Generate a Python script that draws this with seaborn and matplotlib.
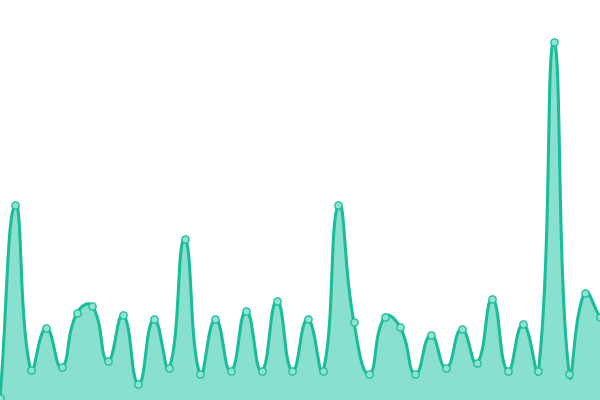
import numpy as np
import pandas as pd
import matplotlib
matplotlib.use("Agg")
import matplotlib.pyplot as plt
import seaborn as sns

# values (one point every 600/39 px)
values = [2, 195, 30, 72, 33, 87, 94, 39, 85, 16,
          81, 32, 161, 26, 81, 29, 89, 29, 99, 29,
          81, 29, 195, 78, 26, 83, 73, 26, 65, 32,
          71, 37, 101, 29, 76, 29, 358, 26, 107, 83]
idx = list(range(len(values)))

line_color = "#1bbc9b"
fill_color = "#8ae0cf"
marker_fill = "#8fe3d2"

step = 600 / (len(values) - 1)
x = np.array(idx) * step
y = np.array(values, dtype=float)


def smooth_curve(x, y, smooth=0.5, n=30):
    # bezier smoothing similar to echarts 'smooth: true'
    pts = np.column_stack([x, y])
    cp_prev = pts.copy()
    cp_next = pts.copy()
    for i in range(len(pts)):
        p = pts[i]
        prev = pts[i - 1] if i > 0 else p
        nxt = pts[i + 1] if i < len(pts) - 1 else p
        v = nxt - prev
        l0 = np.hypot(*(p - prev))
        l1 = np.hypot(*(nxt - p))
        if l0 + l1 == 0:
            continue
        r1 = l1 / (l0 + l1)
        r0 = l0 / (l0 + l1)
        cp_prev[i] = p - v * smooth * r0
        cp_next[i] = p + v * smooth * r1
    t = np.linspace(0, 1, n)[:, None]
    out = []
    for i in range(len(pts) - 1):
        a, b, c, d = pts[i], cp_next[i], cp_prev[i + 1], pts[i + 1]
        seg = ((1 - t) ** 3) * a + 3 * ((1 - t) ** 2) * t * b + 3 * (1 - t) * t ** 2 * c + t ** 3 * d
        out.append(seg if i == 0 else seg[1:])
    out = np.vstack(out)
    return out[:, 0], out[:, 1]


cx, cy = smooth_curve(x, y)
curve = pd.DataFrame({"x": cx, "y": cy})
points = pd.DataFrame({"x": x, "y": y})

sns.set_style("white")
fig = plt.figure(figsize=(6, 4), dpi=100)
ax = fig.add_axes([0, 0, 1, 1])

ax.fill_between(cx, cy, 0, color=fill_color, lw=0)
sns.lineplot(data=curve, x="x", y="y", ax=ax, color=line_color, lw=2.2, sort=False)
sns.scatterplot(data=points, x="x", y="y", ax=ax, s=28, color=marker_fill,
                edgecolor=line_color, linewidth=0.9, zorder=5)

ax.set_xlim(0, 600)
ax.set_ylim(0, 400)
ax.axis("off")

plt.savefig("out.png", dpi=100)
